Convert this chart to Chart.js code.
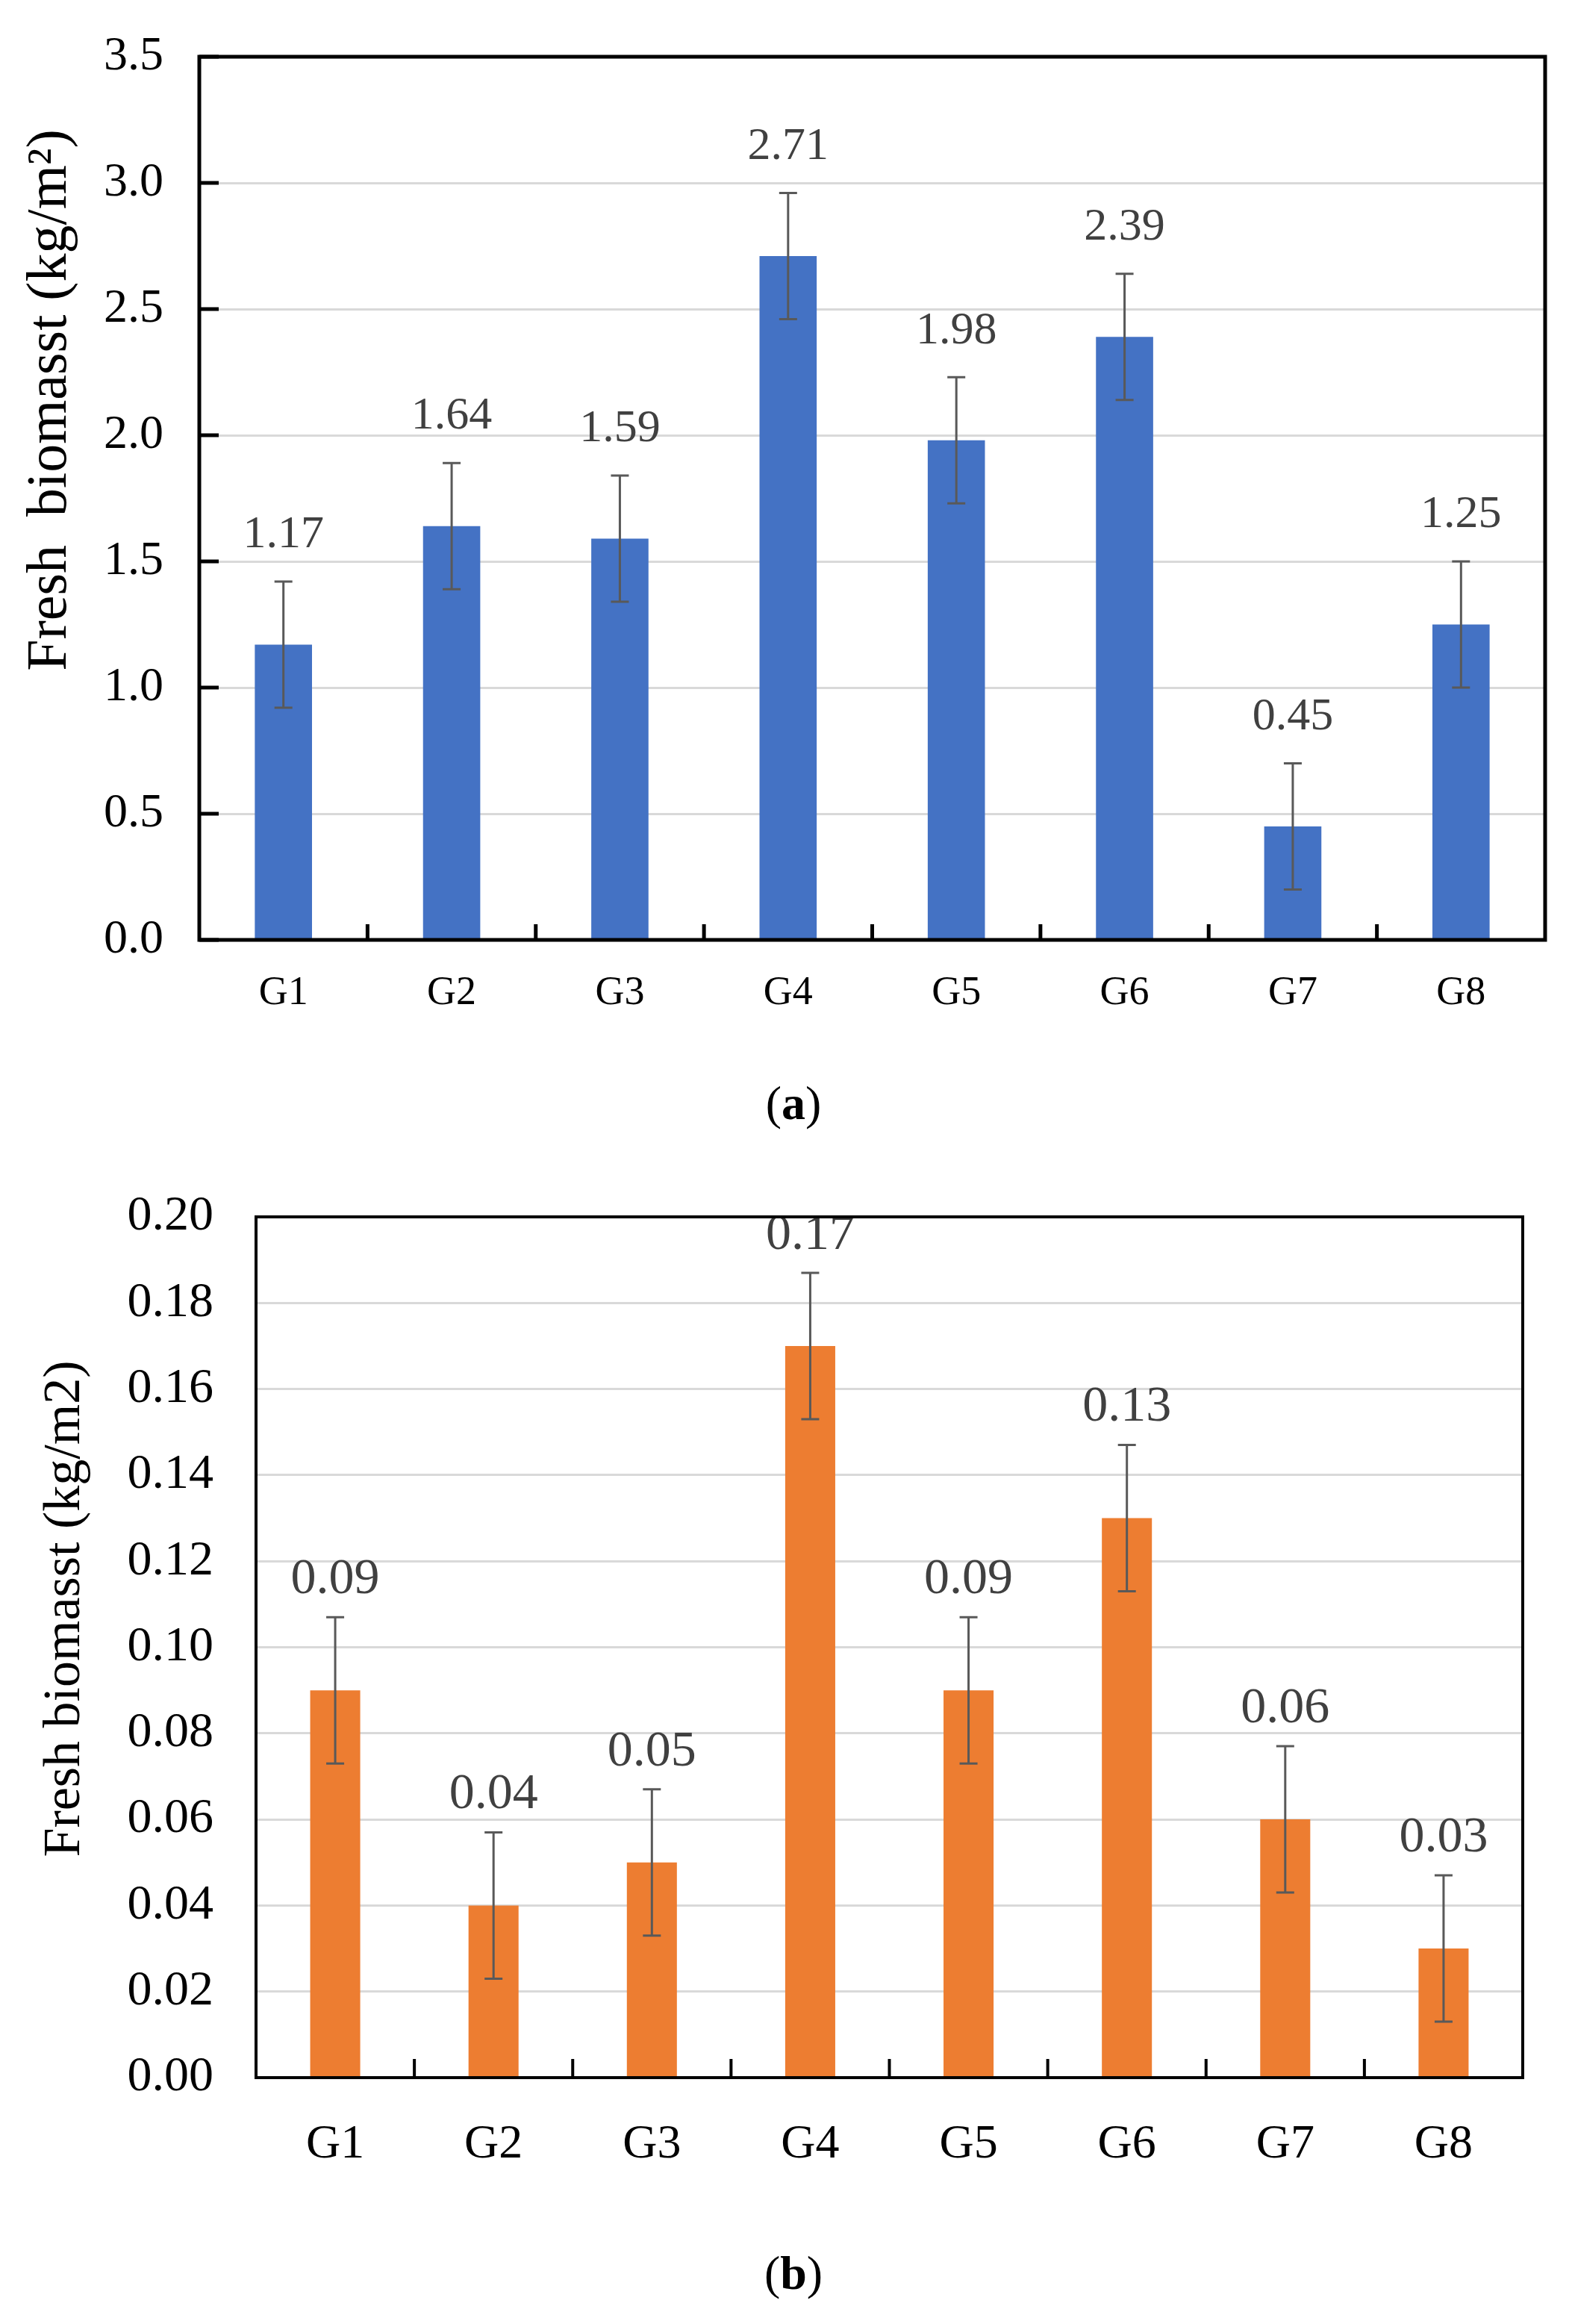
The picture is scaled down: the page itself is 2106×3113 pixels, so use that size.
<!DOCTYPE html>
<html>
<head>
<meta charset="utf-8">
<title>Fresh biomass by group</title>
<script src="https://cdn.jsdelivr.net/npm/chart.js@4.4.1/dist/chart.umd.min.js"></script>
<style>
    html, body { margin: 0; padding: 0; background: #ffffff; }
    body { width: 2106px; height: 3113px; position: relative; overflow: hidden; }
    canvas { position: absolute; left: 0; }
    #chartA { top: 0; }
    #chartB { top: 1560px; }
    .caption {
        position: absolute;
        width: 300px;
        text-align: center;
        font-family: 'Liberation Serif', 'Times New Roman', serif;
        font-size: 64px;
        line-height: 64px;
        color: #000000;
    }
    #capA { left: 913px; top: 1446px; }
    #capB { left: 913px; top: 3013px; }
</style>
</head>
<body>
<canvas id="chartA" width="2106" height="1420"></canvas>
<canvas id="chartB" width="2106" height="1400"></canvas>
<div class="caption" id="capA">(<b>a</b>)</div>
<div class="caption" id="capB">(<b>b</b>)</div>

<script>
/* Fresh biomass per group, two panels */

// Data
const groups = ['G1', 'G2', 'G3', 'G4', 'G5', 'G6', 'G7', 'G8'];

const biomassA = [1.17, 1.64, 1.59, 2.71, 1.98, 2.39, 0.45, 1.25];
const errorA = [0.25, 0.25, 0.25, 0.25, 0.25, 0.25, 0.25, 0.25];

const biomassB = [0.09, 0.04, 0.05, 0.17, 0.09, 0.13, 0.06, 0.03];
const errorB = [0.017, 0.017, 0.017, 0.017, 0.017, 0.017, 0.017, 0.017];

const FONT = "'Liberation Serif', 'Times New Roman', serif";

const COLORS = {
    blue: '#4472C4',
    orange: '#ED7D31',
    grid: '#D9D9D9',
    frame: '#000000',
    errorBar: '#595959',
    valueLabel: '#404040'
};

// Frame around the plot, inward tick marks, error bars, value labels and axis title
const decorPlugin = {
    id: 'decor',
    afterDatasetsDraw(chart, args, opts) {
        const ctx = chart.ctx;
        const yScale = chart.scales.y;
        const meta = chart.getDatasetMeta(0);
        const data = chart.data.datasets[0].data;

        // error bars
        ctx.save();
        ctx.strokeStyle = COLORS.errorBar;
        ctx.lineWidth = 3;
        meta.data.forEach((bar, i) => {
            const x = bar.x;
            const yTop = yScale.getPixelForValue(data[i] + opts.errors[i]);
            const yBot = yScale.getPixelForValue(data[i] - opts.errors[i]);
            ctx.beginPath();
            ctx.moveTo(x, yTop);
            ctx.lineTo(x, yBot);
            ctx.moveTo(x - 12, yTop);
            ctx.lineTo(x + 12, yTop);
            ctx.moveTo(x - 12, yBot);
            ctx.lineTo(x + 12, yBot);
            ctx.stroke();
        });
        ctx.restore();

        // value labels
        ctx.save();
        ctx.fillStyle = COLORS.valueLabel;
        ctx.font = opts.labelSize + 'px ' + FONT;
        ctx.textAlign = 'center';
        ctx.textBaseline = 'middle';
        meta.data.forEach((bar, i) => {
            const yTop = yScale.getPixelForValue(data[i] + opts.errors[i]);
            ctx.fillText(data[i].toFixed(2), bar.x, yTop - opts.labelGap);
        });
        ctx.restore();
    },
    afterDraw(chart, args, opts) {
        const ctx = chart.ctx;
        const area = chart.chartArea;
        const xScale = chart.scales.x;
        const yScale = chart.scales.y;

        ctx.save();
        ctx.strokeStyle = COLORS.frame;
        ctx.lineWidth = opts.frameWidth;

        // inward ticks on the x axis between categories
        ctx.beginPath();
        for (let i = 0; i < groups.length - 1; i++) {
            const xb = (xScale.getPixelForValue(i) + xScale.getPixelForValue(i + 1)) / 2;
            ctx.moveTo(xb, area.bottom);
            ctx.lineTo(xb, area.bottom - opts.xTickLength);
        }
        // inward ticks on the y axis
        if (opts.yTickLength > 0) {
            yScale.ticks.forEach(t => {
                const yp = yScale.getPixelForValue(t.value);
                ctx.moveTo(area.left, yp);
                ctx.lineTo(area.left + opts.yTickLength, yp);
            });
        }
        ctx.stroke();

        ctx.strokeRect(area.left, area.top, area.right - area.left, area.bottom - area.top);
        ctx.restore();

        // rotated axis title
        ctx.save();
        ctx.translate(opts.titleX, opts.titleY);
        ctx.rotate(-Math.PI / 2);
        ctx.fillStyle = '#000000';
        ctx.font = opts.titleSize + 'px ' + FONT;
        ctx.textAlign = 'center';
        ctx.textBaseline = 'middle';
        ctx.fillText(opts.title, 0, 0);
        ctx.restore();
    }
};

function makeChart(canvasId, settings) {
    return new Chart(document.getElementById(canvasId), {
        type: 'bar',
        data: {
            labels: groups,
            datasets: [{
                data: settings.values,
                backgroundColor: settings.color,
                borderWidth: 0,
                barPercentage: settings.barPercentage,
                categoryPercentage: 1.0
            }]
        },
        options: {
            responsive: false,
            devicePixelRatio: 1,
            animation: false,
            layout: {
                padding: settings.padding
            },
            plugins: {
                legend: { display: false },
                tooltip: { enabled: false },
                decor: settings.decor
            },
            scales: {
                x: {
                    grid: { display: false },
                    border: { display: false },
                    ticks: {
                        color: '#000000',
                        padding: settings.xPadding,
                        font: { family: FONT, size: settings.xFontSize }
                    },
                    afterFit: (scale) => { scale.height = settings.xHeight; }
                },
                y: {
                    min: 0,
                    max: settings.yMax,
                    grid: {
                        color: COLORS.grid,
                        lineWidth: 3,
                        drawTicks: false
                    },
                    border: { display: false },
                    ticks: {
                        stepSize: settings.yStep,
                        color: '#000000',
                        padding: settings.yPadding,
                        font: { family: FONT, size: settings.yFontSize },
                        callback: (value) => Number(value).toFixed(settings.decimals)
                    },
                    afterFit: (scale) => {
                        scale.width = settings.yWidth;
                        // keep the plot top fixed by the layout padding only
                        scale.paddingTop = 0;
                        scale.paddingBottom = 0;
                    }
                }
            }
        },
        plugins: [decorPlugin]
    });
}

// Panel (a)
makeChart('chartA', {
    values: biomassA,
    color: COLORS.blue,
    barPercentage: 0.34,
    padding: { top: 76, right: 36, left: 0, bottom: 0 },
    xHeight: 161,
    xPadding: 31,
    xFontSize: 54,
    yWidth: 267,
    yPadding: 48,
    yFontSize: 64,
    yMax: 3.5,
    yStep: 0.5,
    decimals: 1,
    decor: {
        errors: errorA,
        labelSize: 62,
        labelGap: 62,
        frameWidth: 5,
        xTickLength: 21,
        yTickLength: 26,
        title: 'Fresh  biomasst (kg/m\u00B2)',
        titleSize: 76,
        titleX: 68,
        titleY: 536
    }
});

// Panel (b)
makeChart('chartB', {
    values: biomassB,
    color: COLORS.orange,
    barPercentage: 0.316,
    padding: { top: 70, right: 66, left: 0, bottom: 0 },
    xHeight: 177,
    xPadding: 44,
    xFontSize: 64,
    yWidth: 343,
    yPadding: 57,
    yFontSize: 66,
    yMax: 0.2,
    yStep: 0.02,
    decimals: 2,
    decor: {
        errors: errorB,
        labelSize: 68,
        labelGap: 50,
        frameWidth: 4,
        xTickLength: 25,
        yTickLength: 0,
        title: 'Fresh biomasst (kg/m2)',
        titleSize: 70,
        titleX: 88,
        titleY: 595
    }
});
</script>
</body>
</html>
